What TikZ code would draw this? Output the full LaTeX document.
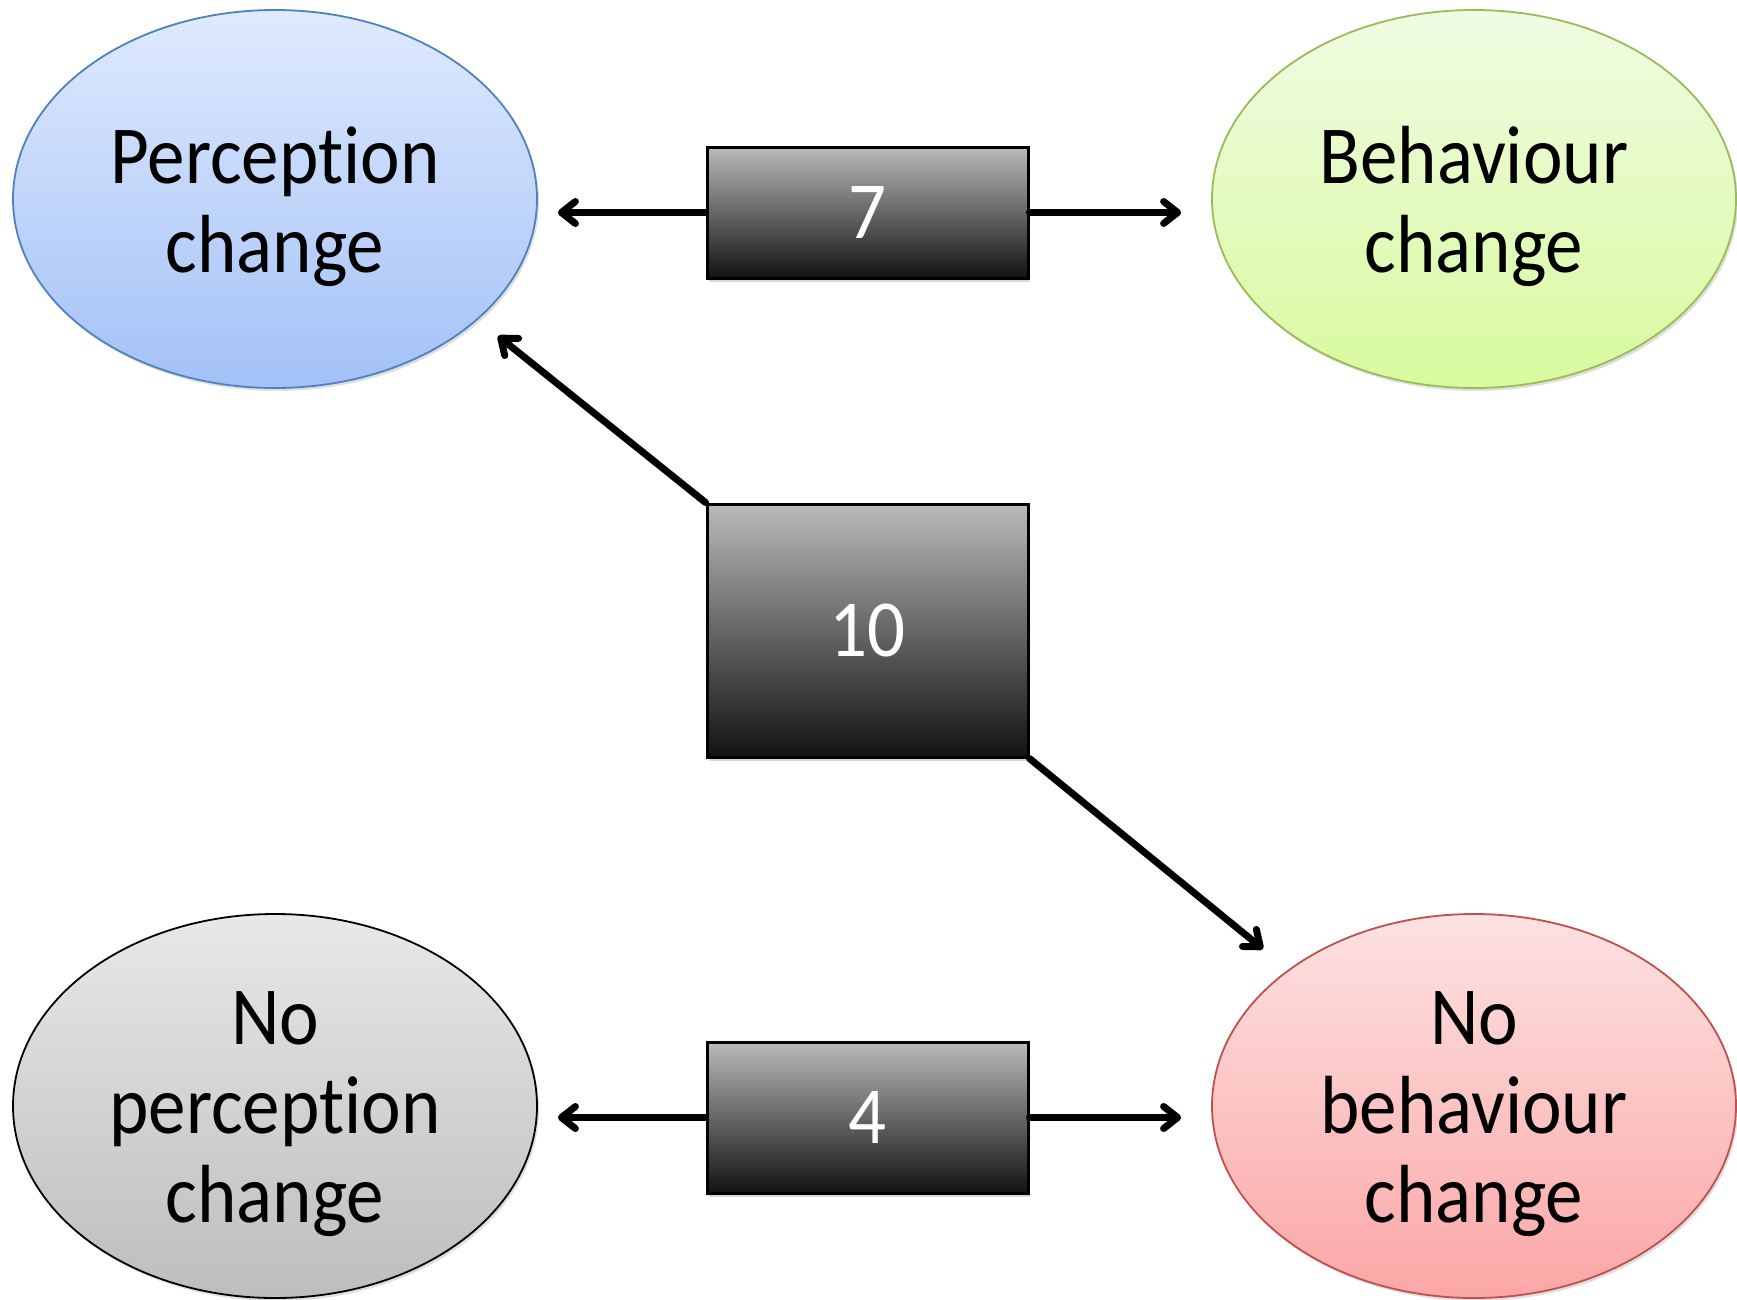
\documentclass[tikz,border=0pt]{standalone}
\usepackage{fontspec}
\usepackage{graphicx}
\setmainfont{Carlito}[Ligatures=NoCommon]
\usetikzlibrary{shapes.geometric,arrows.meta,shadows}
\definecolor{pcTop}{HTML}{DFEAFD}
\definecolor{pcBot}{HTML}{A3C1F8}
\definecolor{pcLine}{HTML}{4F81BD}
\definecolor{bcTop}{HTML}{F0FCE3}
\definecolor{bcBot}{HTML}{D8FA9E}
\definecolor{bcLine}{HTML}{9BBB59}
\definecolor{npTop}{HTML}{E8E8E8}
\definecolor{npBot}{HTML}{BDBDBD}
\definecolor{nbTop}{HTML}{FDE2E2}
\definecolor{nbBot}{HTML}{FBA6A6}
\definecolor{nbLine}{HTML}{C0504D}
\newcommand\vstr[2]{\makebox[0pt]{\raisebox{#1}[0pt][0pt]{\scalebox{1}[1.1]{\begin{tabular}[t]{@{}c@{}}#2\end{tabular}}}}}
\newcommand\numtxt[1]{\scalebox{1}[1.08]{#1}}
\tikzset{
  oval/.style={ellipse, minimum width=524pt, minimum height=378pt, inner sep=0pt,
    line width=1.8pt, font=\fontsize{75}{81}\selectfont,
    drop shadow={opacity=0.25, shadow xshift=2pt, shadow yshift=-3pt}},
  numbox/.style={rectangle, minimum width=321pt, inner sep=0pt, draw=black, line width=3pt,
    top color=black!27, bottom color=black!93, text=white,
    font=\fontsize{75}{89}\selectfont,
    drop shadow={opacity=0.3, shadow xshift=2pt, shadow yshift=-4pt}},
  connshadow/.style={draw=black!30, line width=7pt, line cap=round},
  conn/.style={line width=7pt, line cap=round,
    -{Straight Barb[length=14pt, width=22pt, round]}}
}
\begin{document}
\begin{tikzpicture}[x=1pt, y=-1pt]
\useasboundingbox (0,0) rectangle (1737,1299);
\node[oval, draw=pcLine, top color=pcTop, bottom color=pcBot] (pc) at (275,199) {\vstr{16pt}{Perception\\change}};
\node[oval, draw=bcLine, top color=bcTop, bottom color=bcBot] (bc) at (1474,199) {\vstr{16pt}{Behaviour\\change}};
\node[oval, draw=black, top color=npTop, bottom color=npBot, minimum height=384pt] (np) at (275,1106) {\vstr{62pt}{No\\perception\\change}};
\node[oval, draw=nbLine, top color=nbTop, bottom color=nbBot, minimum height=384pt] (nb) at (1474,1106) {\vstr{62pt}{No\\behaviour\\change}};
\node[numbox, minimum height=131pt] (b7) at (867.5,212.5) {\numtxt{7}};
\node[numbox, minimum height=253pt] (b10) at (867.5,630.5) {\numtxt{10}};
\node[numbox, minimum height=151pt] (b4) at (867.5,1117.5) {\numtxt{4}};
\coordinate (t1) at (498,336);
\coordinate (t2) at (1263,949);
\draw[conn, shorten >=20pt] (b7.west) -- (b7.west -| pc.east);
\draw[conn, shorten >=30pt] (b7.east) -- (b7.east -| bc.west);
\draw[conn, shorten >=20pt] (b4.west) -- (b4.west -| np.east);
\draw[conn, shorten >=30pt] (b4.east) -- (b4.east -| nb.west);
\draw[conn] (b10.north west) -- (t1);
\draw[conn] (b10.south east) -- (t2);
\end{tikzpicture}
\end{document}
